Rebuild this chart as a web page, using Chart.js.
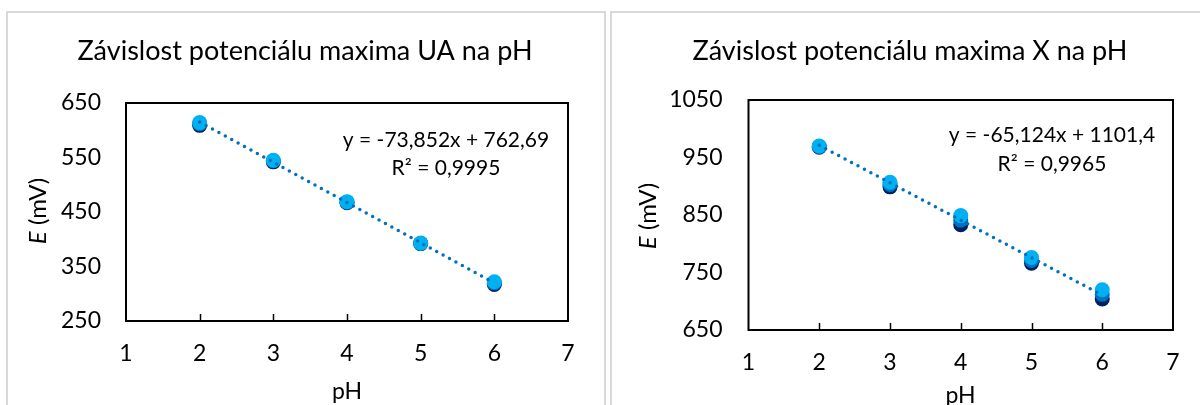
<!DOCTYPE html>
<html><head><meta charset="utf-8">
<script src="https://cdn.jsdelivr.net/npm/chart.js@4/dist/chart.umd.min.js"></script>
<style>
html,body{margin:0;padding:0;background:#fff;width:1200px;height:405px;overflow:hidden;}
.frame{position:absolute;border:2px solid #d9d9d9;box-sizing:border-box;background:#fff;}
canvas{position:absolute;top:0;}
</style></head><body>
<div class="frame" style="left:6px;top:11px;width:600px;height:430px"></div>
<div class="frame" style="left:610px;top:11px;width:600px;height:430px"></div>
<canvas id="c1" width="605" height="405" style="left:0"></canvas>
<canvas id="c2" width="595" height="405" style="left:605px"></canvas>
<script>
// ---- data ----
const phValues = [2, 3, 4, 5, 6];
const xTickValues = [1, 2, 3, 4, 5, 6, 7];

const uaDark  = [609, 542, 467, 392, 317];
const uaMid   = [612, 544, 468, 392, 320];
const uaLight = [614, 545, 469, 393, 322];
const uaTrendX = [2, 6];
const uaTrendY = [615.0, 319.6];
const uaYRange = [250, 650];
const uaTitle = 'Závislost potenciálu maxima UA na pH';
const uaEquation = ['y = -73,852x + 762,69', 'R² = 0,9995'];

const xDark  = [968, 899, 833, 766, 704];
const xMid   = [969, 903, 841, 771, 712];
const xLight = [970, 907, 849, 776, 720];
const xTrendX = [2, 6];
const xTrendY = [971.2, 710.7];
const xYRange = [650, 1050];
const xTitle = 'Závislost potenciálu maxima X na pH';
const xEquation = ['y = -65,124x + 1101,4', 'R² = 0,9965'];

const yStep = 50;
const yLabelStep = 100;
const xAxisTitle = 'pH';
const yAxisTitleItalic = 'E';
const yAxisTitleRest = ' (mV)';

// ---- styles ----
const FONT = 'Lato, "Open Sans", sans-serif';
const COL_DARK = '#002060', COL_MID = '#0070C0', COL_LIGHT = '#00B0F0', COL_TREND = '#0070C0';

function pts(xs, ys){ return xs.map((x,i)=>({x:x, y:ys[i]})); }

function makeChart(id, cfg){
  const decor = {
    id: 'decor',
    afterDraw(chart){
      const ctx = chart.ctx, a = chart.chartArea, xs = chart.scales.x;
      ctx.save();
      ctx.strokeStyle = '#000'; ctx.lineWidth = 2;
      ctx.strokeRect(a.left, a.top, a.right - a.left, a.bottom - a.top);
      ctx.lineWidth = 1.5;
      phValues.forEach(v=>{
        const px = Math.round(xs.getPixelForValue(v)) + 0.5;
        ctx.beginPath(); ctx.moveTo(px, a.bottom); ctx.lineTo(px, a.bottom - 7); ctx.stroke();
      });
      ctx.fillStyle = '#000';
      ctx.font = '27px ' + FONT; ctx.textAlign = 'center'; ctx.textBaseline = 'alphabetic';
      ctx.fillText(cfg.title, cfg.titleX, 60);
      ctx.font = '21px ' + FONT;
      ctx.fillText(cfg.eq[0], cfg.eqX, cfg.eqY[0]);
      ctx.fillText(cfg.eq[1], cfg.eqX, cfg.eqY[1]);
      ctx.font = '23px ' + FONT;
      ctx.fillText(xAxisTitle, cfg.xtX, cfg.xtY);
      ctx.translate(cfg.ytX, cfg.ytY); ctx.rotate(-Math.PI/2);
      ctx.textAlign = 'left'; ctx.textBaseline = 'middle';
      ctx.font = 'italic 24px ' + FONT; const w1 = ctx.measureText(yAxisTitleItalic).width;
      ctx.font = '24px ' + FONT; const w2 = ctx.measureText(yAxisTitleRest).width;
      const start = -(w1 + w2)/2;
      ctx.font = 'italic 24px ' + FONT; ctx.fillText(yAxisTitleItalic, start, 0);
      ctx.font = '24px ' + FONT; ctx.fillText(yAxisTitleRest, start + w1, 0);
      ctx.restore();
    }
  };
  const mk = (data, col, order) => ({
    data: pts(phValues, data), backgroundColor: col, borderColor: col, borderWidth: 0,
    pointRadius: 7.5, pointHoverRadius: 7.5, showLine: false, order: order
  });
  return new Chart(document.getElementById(id), {
    type: 'scatter',
    data: { datasets: [
      { data: pts(cfg.trendX, cfg.trendY), showLine: true, pointRadius: 0, borderColor: COL_TREND,
        borderWidth: 3.5, borderDash: [0, 7.3], borderCapStyle: 'round', order: 0, fill: false },
      mk(cfg.light, COL_LIGHT, 1), mk(cfg.mid, COL_MID, 2), mk(cfg.dark, COL_DARK, 3)
    ]},
    options: {
      responsive: false, animation: false, devicePixelRatio: 1,
      layout: { padding: cfg.padding },
      plugins: { legend: {display:false}, tooltip: {enabled:false}, title: {display:false} },
      scales: {
        x: { type:'linear', min: xTickValues[0], max: xTickValues[xTickValues.length-1],
             afterBuildTicks: s => { s.ticks = xTickValues.map(v=>({value:v})); },
             ticks: { color:'#000', font:{family:FONT, size:23}, padding: cfg.xPad, maxRotation:0 },
             grid: { display:true, drawOnChartArea:false, drawTicks:false, color:'rgba(0,0,0,0)' },
             border: { display:false },
             afterFit: s => { s.height = 50; } },
        y: { type:'linear', min: cfg.yRange[0], max: cfg.yRange[1],
             ticks: { stepSize: yStep, color:'#000', font:{family:FONT, size:23}, padding: cfg.yPad,
                      callback: v => ((v - cfg.yRange[0]) % yLabelStep === 0 ? String(v) : '') },
             grid: { display:true, drawOnChartArea:false, drawTicks:true, tickLength:6, lineWidth:1.5,
                     color: c => ((c.tick && (c.tick.value - cfg.yRange[0]) % yLabelStep !== 0) ? '#000' : 'rgba(0,0,0,0)') },
             border: { display:false },
             afterFit: s => { s.width = 100; } }
      }
    },
    plugins: [decor]
  });
}

makeChart('c1', {
  dark: uaDark, mid: uaMid, light: uaLight, trendX: uaTrendX, trendY: uaTrendY, yRange: uaYRange,
  title: uaTitle, eq: uaEquation, titleX: 305, eqX: 446, eqY: [146.7, 175],
  xtX: 347, xtY: 399, ytX: 38, ytY: 211,
  padding: { left: 26, right: 37, top: 103, bottom: 34 }, xPad: 19, yPad: 19
});
makeChart('c2', {
  dark: xDark, mid: xMid, light: xLight, trendX: xTrendX, trendY: xTrendY, yRange: xYRange,
  title: xTitle, eq: xEquation, titleX: 305, eqX: 447, eqY: [141.7, 170.7],
  xtX: 355.5, xtY: 403, ytX: 43, ytY: 216,
  padding: { left: 43.5, right: 27, top: 100, bottom: 25 }, xPad: 19, yPad: 20
});
</script>
</body></html>
